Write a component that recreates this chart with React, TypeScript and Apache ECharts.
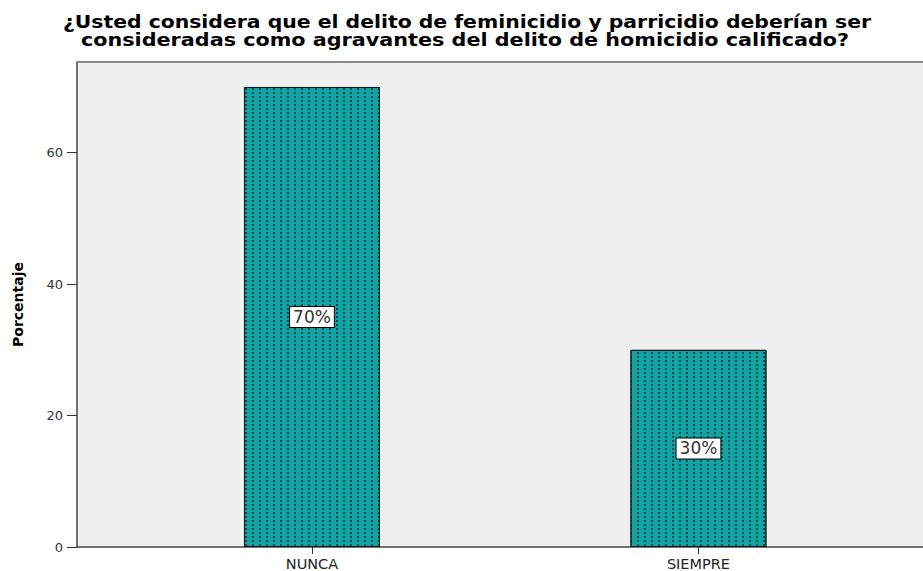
import React, { useEffect, useRef } from "react";
import * as echarts from "echarts";

const titleLines = [
  "¿Usted considera que el delito de feminicidio y parricidio deberían ser",
  "consideradas como agravantes del delito de homicidio calificado?",
];
const categories = ["NUNCA", "SIEMPRE"];
const percentages = [70, 30];
const yTicks = [0, 20, 40, 60];
const yAxisName = "Porcentaje";

export default function App() {
  const ref = useRef<HTMLDivElement>(null);
  useEffect(() => {
    document.body.style.margin = "0";
    const chart = echarts.init(ref.current!, null, { renderer: "svg" });
    const catIdx = categories.map((_, i) => i);
    const titleFont = {
      fontFamily: "DejaVu Sans",
      fontWeight: "bold" as const,
      fontSize: 18,
      fill: "#000",
      textAlign: "center" as const,
      textVerticalAlign: "middle" as const,
    };
    const titleX = [467, 465];
    const titleY = [22, 40];
    const titleScale = [1.133, 1.152];
    chart.setOption({
      animation: false,
      backgroundColor: "#ffffff",
      aria: { enabled: true, decal: { show: true } },
      graphic: titleLines.map((t, i) => ({
        type: "text",
        x: titleX[i],
        y: titleY[i],
        scaleX: titleScale[i],
        style: { ...titleFont, text: t },
      })),
      grid: {
        show: true,
        left: 77,
        top: 62,
        right: 0,
        bottom: 23,
        backgroundColor: "#f0f0f0",
        borderWidth: 0,
      },
      xAxis: [
        {
          type: "value",
          min: -0.608,
          max: 1.581,
          position: "bottom",
          splitLine: { show: false },
          axisLine: { show: true, onZero: false, lineStyle: { color: "#444", width: 1.5 } },
          axisTick: {
            show: true,
            customValues: catIdx,
            length: 7,
            lineStyle: { color: "#333", width: 1 },
          },
          axisLabel: {
            customValues: catIdx,
            formatter: (v: number) => categories[Math.round(v)] ?? "",
            margin: 9,
            fontFamily: "DejaVu Sans",
            fontSize: 14.5,
            color: "#222",
          },
        },
        {
          type: "value",
          min: -0.608,
          max: 1.581,
          position: "top",
          splitLine: { show: false },
          axisLine: { show: true, onZero: false, lineStyle: { color: "#8a8a8a", width: 2 } },
          axisTick: { show: false },
          axisLabel: { show: false },
        },
      ],
      yAxis: {
        type: "value",
        min: 0,
        max: 73.8,
        interval: 20,
        name: yAxisName,
        nameLocation: "middle",
        nameGap: 52,
        nameRotate: 90,
        nameTextStyle: {
          fontFamily: "DejaVu Sans",
          fontWeight: "bold",
          fontSize: 14,
          color: "#000",
        },
        splitLine: { show: false },
        axisLine: { show: true, onZero: false, lineStyle: { color: "#444", width: 1.5 } },
        axisTick: {
          show: true,
          customValues: yTicks,
          length: 10,
          lineStyle: { color: "#333", width: 1 },
        },
        axisLabel: {
          customValues: yTicks,
          margin: 14,
          fontFamily: "DejaVu Sans",
          fontSize: 13,
          color: "#333",
        },
      },
      series: [
        {
          type: "bar",
          xAxisIndex: 0,
          barWidth: 136,
          data: percentages.map((v, i) => [i, v]),
          itemStyle: {
            color: "#12a3a3",
            borderColor: "#1a1a1a",
            borderWidth: 1,
            decal: {
              symbol: "rect",
              symbolSize: 1,
              dashArrayX: [1.5, 5],
              dashArrayY: [1.5, 2],
              color: "#0a4f4f",
              rotation: 0,
            },
          },
          label: {
            show: true,
            position: "inside",
            formatter: (p: any) => `${p.value[1]}%`,
            fontFamily: "DejaVu Sans",
            fontSize: 17,
            color: "#333",
            backgroundColor: "#ffffff",
            borderColor: "#000",
            borderWidth: 1,
            padding: [2, 3, 1, 3],
          },
        },
      ],
    });
    return () => chart.dispose();
  }, []);
  return (
    <div
      ref={ref}
      style={{ position: "absolute", left: 0, top: 0, width: 923, height: 571 }}
    />
  );
}
